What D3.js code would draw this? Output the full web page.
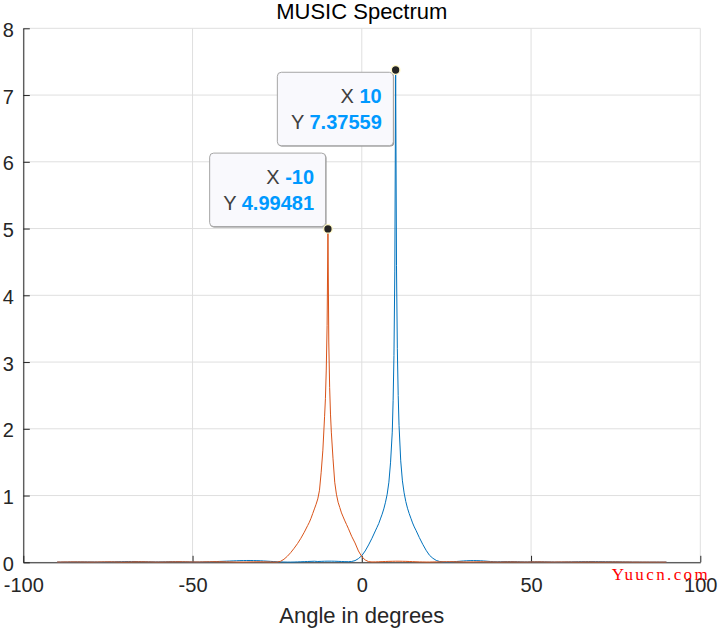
<!DOCTYPE html>
<html>
<head>
<meta charset="utf-8">
<script src="https://cdn.jsdelivr.net/npm/d3@7/dist/d3.min.js"></script>
<style>
  html, body { margin: 0; padding: 0; background: #fff; }
  svg { display: block; }
</style>
</head>
<body>
<svg id="chart" width="720" height="630"></svg>
<script>
// ---------------- data ----------------
// Blue series: coarse 1-degree samples, denser samples around its peak at 10°
const blueFineAngles = [4,4.5,5,5.5,6,6.5,7,7.5,8,8.5,9,9.25,9.5,9.75,10,10.25,10.5,10.75,11,11.5,12,12.5,13,13.5,14,14.5,15,15.5,16];
const blueAngles = d3.range(-90, 4, 1).concat(blueFineAngles, d3.range(17, 91, 1));
const blueSpectrum = [
  // -90 .. -73
  0.003,0.003,0.004,0.004,0.005,0.005,0.006,0.006,0.006,0.006,0.005,0.005,0.004,0.004,0.005,0.006,0.007,0.008,
  // -72 .. -62
  0.009,0.010,0.011,0.012,0.012,0.012,0.011,0.010,0.009,0.008,0.007,
  // -61 .. -51
  0.006,0.006,0.007,0.008,0.009,0.010,0.010,0.009,0.008,0.007,0.006,
  // -50 .. -39
  0.005,0.004,0.004,0.005,0.006,0.007,0.009,0.011,0.013,0.015,0.017,0.019,
  // -38 .. -26
  0.021,0.023,0.025,0.026,0.027,0.027,0.026,0.025,0.023,0.020,0.017,0.014,0.011,
  // -25 .. -14
  0.008,0.006,0.004,0.003,0.003,0.004,0.006,0.008,0.010,0.012,0.014,0.016,
  // -13 .. 3
  0.012,0.014,0.016,0.017,0.017,0.016,0.014,0.012,0.010,0.009,0.012,0.025,0.055,0.10,0.17,0.26,0.36,
  // 4 .. 16 (fine)
  0.47,0.525,0.58,0.65,0.72,0.80,0.90,1.02,1.20,1.50,1.95,2.42,3.10,4.35,7.37559,4.45,3.20,2.50,2.05,1.52,
  1.22,1.04,0.91,0.81,0.73,0.66,0.59,0.53,0.48,
  // 17 .. 27
  0.37,0.27,0.18,0.105,0.06,0.028,0.012,0.005,0.004,0.005,0.008,
  // 28 .. 78
  0.012,0.016,0.020,0.023,0.025,0.026,0.025,0.023,0.020,0.016,0.012,0.009,0.008,0.009,0.010,0.011,
  0.011,0.010,0.009,0.007,0.006,0.006,0.007,0.008,0.008,0.008,0.007,0.006,0.005,0.004,0.004,0.004,0.005,0.006,0.007,0.008,
  0.009,0.010,0.010,0.011,0.011,0.011,0.010,0.010,0.009,0.009,0.008,0.008,0.007,0.006,0.005,
  // 79 .. 90
  0.005,0.004,0.004,0.004,0.003,0.003,0.003,0.003,0.003,0.003,0.003,0.003
];

// Orange series: coarse 1-degree samples, denser samples around its peak at -10°
const orangeFineAngles = [-16,-15.5,-15,-14.5,-14,-13.5,-13,-12.5,-12,-11.5,-11,-10.75,-10.5,-10.25,-10,-9.75,-9.5,-9.25,-9,-8.5,-8,-7.5,-7,-6.5,-6,-5.5,-5,-4.5,-4];
const orangeAngles = d3.range(-90, -16, 1).concat(orangeFineAngles, d3.range(-3, 91, 1));
const orangeSpectrum = [
  // -90 .. -61
  0.004,0.004,0.005,0.005,0.006,0.006,0.006,0.005,0.005,0.004,0.004,0.004,0.005,0.006,0.007,0.007,0.007,0.006,0.005,0.004,
  0.004,0.005,0.006,0.007,0.008,0.008,0.007,0.006,0.005,0.004,
  // -60 .. -25
  0.004,0.004,0.005,0.006,0.007,0.008,0.008,0.008,0.007,0.006,0.005,0.005,0.005,0.006,0.007,0.008,0.009,0.009,0.009,0.008,
  0.007,0.006,0.005,0.004,0.004,0.004,0.005,0.006,0.007,0.008,0.008,0.007,0.006,0.005,0.004,0.004,
  // -24 .. -17
  0.015,0.045,0.09,0.145,0.21,0.28,0.36,0.45,
  // -16 .. -4 (fine)
  0.55,0.60,0.66,0.73,0.80,0.87,0.95,1.08,1.35,1.68,2.18,2.45,2.88,3.55,4.99481,3.30,2.62,2.22,1.95,1.55,
  1.20,1.02,0.90,0.82,0.74,0.68,0.62,0.565,0.51,
  // -3 .. 3
  0.39,0.29,0.17,0.085,0.035,0.010,0.005,
  // 4 .. 20
  0.006,0.008,0.010,0.012,0.014,0.015,0.016,0.016,0.015,0.014,0.012,0.010,0.008,0.006,0.005,0.004,0.004,
  // 21 .. 90
  0.005,0.006,0.007,0.008,0.009,0.009,0.009,0.008,0.007,0.006,
  0.005,0.005,0.006,0.007,0.008,0.008,0.007,0.006,0.005,0.004,
  0.004,0.005,0.006,0.006,0.006,0.005,0.004,0.004,0.004,0.005,
  0.006,0.006,0.006,0.005,0.004,0.004,0.004,0.005,0.005,0.005,
  0.005,0.004,0.004,0.004,0.004,0.005,0.005,0.005,0.004,0.004,
  0.004,0.004,0.004,0.005,0.005,0.004,0.004,0.004,0.004,0.003,
  0.003,0.003,0.003,0.003,0.003,0.003,0.003,0.003,0.003,0.003
];

const xTicks = [-100, -50, 0, 50, 100];
const yTicks = [0, 1, 2, 3, 4, 5, 6, 7, 8];
const tipAngles = [10, -10];   // data-tip positions (blue, orange)

const titleText = "MUSIC Spectrum";
const xLabelText = "Angle in degrees";
const watermarkText = "Yuucn.com";

(function () {
// ---------------- layout ----------------
const pL = 23.3, pR = 700.3, pT = 28.3, pB = 562.3;
const FONT = "'Liberation Sans', Arial, Helvetica, sans-serif";
const AX = "#262626";
const BLUE = "#0072BD", ORANGE = "#D95319";

const svg = d3.select("#chart");
const x = d3.scaleLinear().domain([-100, 100]).range([pL, pR]);
const y = d3.scaleLinear().domain([0, 8]).range([pB, pT]);

// grid
const grid = svg.append("g");
grid.selectAll("line.gx").data(xTicks).join("line").attr("class", "gx")
  .attr("x1", d => x(d)).attr("x2", d => x(d))
  .attr("y1", pT).attr("y2", pB)
  .attr("stroke", "#dfdfdf").attr("stroke-width", 1);
grid.selectAll("line.gy").data(yTicks).join("line").attr("class", "gy")
  .attr("x1", pL).attr("x2", pR)
  .attr("y1", d => y(d)).attr("y2", d => y(d))
  .attr("stroke", "#dfdfdf").attr("stroke-width", 1);

// axes
const fmt = d => String(d);
const xAxis = d3.axisBottom(x).tickValues(xTicks).tickFormat(fmt).tickSizeInner(-6.5).tickSizeOuter(0).tickPadding(10);
const yAxis = d3.axisLeft(y).tickValues(yTicks).tickFormat(fmt).tickSizeInner(-6.5).tickSizeOuter(0).tickPadding(16);

const gx = svg.append("g").attr("transform", `translate(0,${pB})`).call(xAxis);
const gy = svg.append("g").attr("transform", `translate(${pL},0)`).call(yAxis);
[gx, gy].forEach(g => {
  g.select(".domain").attr("stroke", AX).attr("stroke-width", 1);
  g.selectAll(".tick line").attr("stroke", AX).attr("stroke-width", 1);
  g.selectAll(".tick text").attr("fill", AX).style("font-family", FONT).style("font-size", "20px");
});
gx.selectAll(".tick text").attr("dy", null).attr("y", 30);
gy.selectAll(".tick text").attr("dy", null).attr("x", -9.5).attr("y", 8).attr("text-anchor", "end");

// lines
function drawLine(xs, ys, color) {
  const line = d3.line().x((d, i) => x(xs[i])).y(d => y(d));
  svg.append("path").datum(ys).attr("d", line)
    .attr("fill", "none").attr("stroke", color).attr("stroke-width", 1).attr("stroke-linejoin", "round");
}
drawLine(blueAngles, blueSpectrum, BLUE);
drawLine(orangeAngles, orangeSpectrum, ORANGE);

// title & labels
svg.append("text").attr("x", (pL + pR) / 2).attr("y", 18.5)
  .attr("text-anchor", "middle").attr("fill", "#000")
  .style("font-family", FONT).style("font-size", "22px").text(titleText);
svg.append("text").attr("x", (pL + pR) / 2).attr("y", 622.7)
  .attr("text-anchor", "middle").attr("fill", AX)
  .style("font-family", FONT).style("font-size", "22px").text(xLabelText);

// data tips
function dataTip(xs, series, angle, below) {
  const idx = xs.indexOf(angle);
  const val = series[idx];
  const mx = x(angle), my = y(val);
  const bw = 116, bh = 73.5;
  const bx = mx - 2.3 - bw;
  const by = below ? my + 2.3 : my - 2.3 - bh;
  const g = svg.append("g");
  g.append("rect").attr("x", bx + 0.8).attr("y", by + 0.8).attr("width", bw).attr("height", bh)
    .attr("rx", 4).attr("fill", "#8a8a8a");
  g.append("rect").attr("x", bx).attr("y", by).attr("width", bw).attr("height", bh)
    .attr("rx", 4).attr("fill", "#f9f9fd").attr("stroke", "#a6a6a6").attr("stroke-width", 1);
  const tx = bx + bw - 11.6;
  const rows = [["X ", String(angle)], ["Y ", String(val)]];
  rows.forEach((r, i) => {
    const t = g.append("text").attr("x", tx).attr("y", by + 31 + i * 26.2)
      .attr("text-anchor", "end").style("font-family", FONT).style("font-size", "20px");
    t.append("tspan").attr("fill", "#404040").text(r[0]);
    t.append("tspan").attr("fill", "#0099FF").attr("font-weight", "bold").text(r[1]);
  });
  g.append("circle").attr("cx", mx).attr("cy", my).attr("r", 4.3)
    .attr("fill", "#242424").attr("stroke", "#fff8c8").attr("stroke-width", 1.3);
}
dataTip(blueAngles, blueSpectrum, tipAngles[0], true);
dataTip(orangeAngles, orangeSpectrum, tipAngles[1], false);

// watermark
svg.append("text").attr("x", 611.7).attr("y", 580)
  .attr("fill", "#ff0000")
  .attr("textLength", 96).attr("lengthAdjust", "spacing")
  .style("font-family", "'Liberation Serif', 'DejaVu Serif', serif").style("font-size", "17px")
  .text(watermarkText);
})();
</script>
</body>
</html>
